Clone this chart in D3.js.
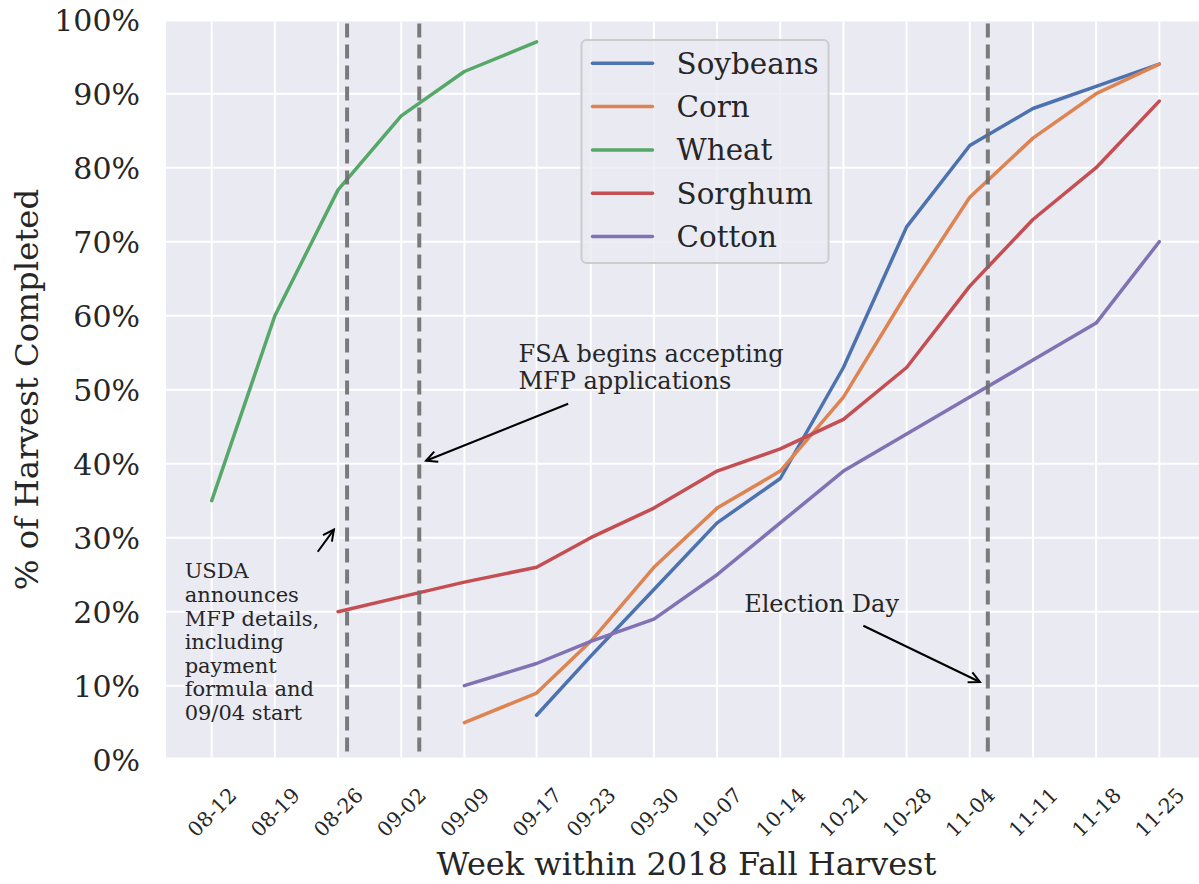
<!DOCTYPE html>
<html>
<head>
<meta charset="utf-8">
<script src="https://cdn.jsdelivr.net/npm/d3@7"></script>
<style>
  html, body { margin: 0; padding: 0; background: #ffffff; }
  svg { display: block; font-family: "DejaVu Serif", serif; }
</style>
</head>
<body>
<svg id="chart" width="1199" height="884"></svg>
<script>
// Weekly harvest progress, 2018 fall season
const weeks = ["2018-08-12","2018-08-19","2018-08-26","2018-09-02","2018-09-09","2018-09-17",
               "2018-09-23","2018-09-30","2018-10-07","2018-10-14","2018-10-21","2018-10-28",
               "2018-11-04","2018-11-11","2018-11-18","2018-11-25"];

const seriesNames  = ["Soybeans", "Corn", "Wheat", "Sorghum", "Cotton"];
const seriesColors = ["#4C72B0", "#DD8452", "#55A868", "#C44E52", "#8172B3"];

// null = no report that week
const soybeans = [null, null, null, null, null, 0.06, 0.14, 0.23, 0.32, 0.38, 0.53, 0.72, 0.83, 0.88, 0.91, 0.94];
const corn     = [null, null, null, null, 0.05, 0.09, 0.16, 0.26, 0.34, 0.39, 0.49, 0.63, 0.76, 0.84, 0.90, 0.94];
const wheat    = [0.35, 0.60, 0.77, 0.87, 0.93, 0.97, null, null, null, null, null, null, null, null, null, null];
const sorghum  = [null, null, 0.20, 0.22, 0.24, 0.26, 0.30, 0.34, 0.39, 0.42, 0.46, 0.53, 0.64, 0.73, 0.80, 0.89];
const cotton   = [null, null, null, null, 0.10, 0.13, 0.16, 0.19, 0.25, 0.32, 0.39, 0.44, 0.49, 0.54, 0.59, 0.70];
const seriesValues = [soybeans, corn, wheat, sorghum, cotton];

const yTicks = [0, 0.1, 0.2, 0.3, 0.4, 0.5, 0.6, 0.7, 0.8, 0.9, 1.0];

// Key policy / calendar events
const eventDates = ["2018-08-27", "2018-09-04", "2018-11-06"];

// Annotation text blocks and their arrows (date, fraction)
const annotations = [
  { lines: ["USDA", "announces", "MFP details,", "including", "payment", "formula and", "09/04 start"],
    at: ["2018-08-09T00:00", 0.245], size: 21, lead: 23.6,
    tail: ["2018-08-23T18:00", 0.281], tip: ["2018-08-25T13:00", 0.311] },
  { lines: ["FSA begins accepting", "MFP applications"],
    at: ["2018-09-15T00:00", 0.537], size: 24, lead: 27,
    tail: ["2018-09-20T12:00", 0.481], tip: ["2018-09-04T18:00", 0.404] },
  { lines: ["Election Day"],
    at: ["2018-10-10T00:00", 0.2], size: 24, lead: 27,
    tail: ["2018-10-23T05:00", 0.181], tip: ["2018-11-05T03:00", 0.105] }
];

const xTitle = "Week within 2018 Fall Harvest";
const yTitle = "% of Harvest Completed";

// ---------------------------------------------------------------
const svg = d3.select("#chart");
const parseDay = d3.utcParse("%Y-%m-%d");
const dates = weeks.map(parseDay);

const plot = { left: 166, right: 1199, top: 21.5, bottom: 757.5 };

const x = d3.scaleUtc()
  .domain([dates[0], dates[dates.length - 1]])
  .range([211.7, 1159.3]);
const y = d3.scaleLinear().domain([0, 1]).range([759.7, 19.7]);

const textColor = "#262626";

svg.append("defs").append("clipPath").attr("id", "plotclip")
  .append("rect")
  .attr("x", plot.left).attr("y", plot.top)
  .attr("width", plot.right - plot.left).attr("height", plot.bottom - plot.top);

// background
svg.append("rect")
  .attr("x", plot.left).attr("y", plot.top)
  .attr("width", plot.right - plot.left).attr("height", plot.bottom - plot.top)
  .attr("fill", "#EAEAF2");

const grid = svg.append("g").attr("clip-path", "url(#plotclip)");
grid.selectAll("line.h").data(yTicks).join("line")
  .attr("class", "h")
  .attr("x1", plot.left).attr("x2", plot.right)
  .attr("y1", d => y(d)).attr("y2", d => y(d))
  .attr("stroke", "#ffffff").attr("stroke-width", 2);
grid.selectAll("line.v").data(dates).join("line")
  .attr("class", "v")
  .attr("x1", d => x(d)).attr("x2", d => x(d))
  .attr("y1", plot.top).attr("y2", plot.bottom)
  .attr("stroke", "#ffffff").attr("stroke-width", 2);

// series lines
const lineGen = d3.line()
  .defined(d => d.v != null)
  .x(d => x(d.date))
  .y(d => y(d.v));

const lines = svg.append("g").attr("clip-path", "url(#plotclip)");
seriesNames.forEach((name, i) => {
  const pts = dates.map((date, j) => ({ date, v: seriesValues[i][j] }));
  lines.append("path")
    .datum(pts)
    .attr("d", lineGen)
    .attr("fill", "none")
    .attr("stroke", seriesColors[i])
    .attr("stroke-width", 3.5)
    .attr("stroke-linejoin", "round")
    .attr("stroke-linecap", "round");
});

// event markers
lines.selectAll("line.event").data(eventDates.map(parseDay)).join("line")
  .attr("class", "event")
  .attr("x1", d => x(d)).attr("x2", d => x(d))
  .attr("y1", plot.top + 2).attr("y2", plot.bottom)
  .attr("stroke", "#6e6e6e").attr("stroke-opacity", 0.9)
  .attr("stroke-width", 4)
  .attr("stroke-dasharray", "14 7");

// axes
const yAxis = svg.append("g")
  .attr("transform", `translate(${plot.left},0)`)
  .call(d3.axisLeft(y).tickValues(yTicks).tickFormat(d3.format(".0%")).tickSize(0).tickPadding(26));
yAxis.select(".domain").remove();
yAxis.selectAll("text")
  .attr("font-family", "DejaVu Serif")
  .attr("font-size", 30)
  .attr("fill", textColor)
  .attr("dy", "0.36em");

const xAxis = svg.append("g")
  .attr("transform", `translate(0,${plot.bottom})`)
  .call(d3.axisBottom(x).tickValues(dates).tickFormat(d3.utcFormat("%m-%d")).tickSize(0));
xAxis.select(".domain").remove();
xAxis.selectAll("text")
  .attr("font-family", "DejaVu Serif")
  .attr("font-size", 20.5)
  .attr("fill", textColor)
  .attr("x", 0).attr("y", 0).attr("dy", null)
  .attr("text-anchor", "middle")
  .attr("dominant-baseline", "central")
  .attr("transform", "translate(0,55) rotate(-45)");

// axis titles
svg.append("text")
  .attr("x", (plot.left + 1207) / 2).attr("y", 875)
  .attr("text-anchor", "middle")
  .attr("font-size", 32).attr("fill", textColor)
  .text(xTitle);
svg.append("text")
  .attr("transform", `translate(38,${(plot.top + plot.bottom) / 2}) rotate(-90)`)
  .attr("text-anchor", "middle")
  .attr("font-size", 32.4).attr("fill", textColor)
  .text(yTitle);

// annotations
const defs = svg.select("defs");
defs.append("marker")
  .attr("id", "openhead")
  .attr("viewBox", "-12 -7 14 14")
  .attr("refX", 0).attr("refY", 0)
  .attr("markerWidth", 14).attr("markerHeight", 14)
  .attr("markerUnits", "userSpaceOnUse")
  .attr("orient", "auto")
  .append("path")
  .attr("d", "M-11,-5.5 L0,0 L-11,5.5")
  .attr("fill", "none").attr("stroke", "#000").attr("stroke-width", 2);

const iso = d3.isoParse;
const ann = svg.append("g");
annotations.forEach(a => {
  const t = ann.append("text")
    .attr("font-size", a.size).attr("fill", textColor)
    .attr("x", x(iso(a.at[0]))).attr("y", y(a.at[1]));
  a.lines.forEach((ln, k) => {
    t.append("tspan")
      .attr("x", x(iso(a.at[0])))
      .attr("dy", k === 0 ? 0 : a.lead)
      .text(ln);
  });
  ann.append("line")
    .attr("x1", x(iso(a.tail[0]))).attr("y1", y(a.tail[1]))
    .attr("x2", x(iso(a.tip[0]))).attr("y2", y(a.tip[1]))
    .attr("stroke", "#000").attr("stroke-width", 2)
    .attr("marker-end", "url(#openhead)");
});

// legend
const lg = svg.append("g").attr("transform", "translate(581.5,40)");
lg.append("rect")
  .attr("width", 247).attr("height", 223)
  .attr("rx", 5).attr("ry", 5)
  .attr("fill", "#EAEAF2").attr("fill-opacity", 0.8)
  .attr("stroke", "#cccccc").attr("stroke-width", 2);
const items = lg.selectAll("g.item").data(seriesNames).join("g")
  .attr("class", "item")
  .attr("transform", (d, i) => `translate(0,${23.3 + i * 43.3})`);
items.append("line")
  .attr("x1", 11).attr("x2", 71)
  .attr("stroke", (d, i) => seriesColors[i])
  .attr("stroke-width", 3.5).attr("stroke-linecap", "round");
items.append("text")
  .attr("x", 95).attr("dy", "0.36em")
  .attr("font-size", 29.4).attr("fill", textColor)
  .text(d => d);
</script>
</body>
</html>
